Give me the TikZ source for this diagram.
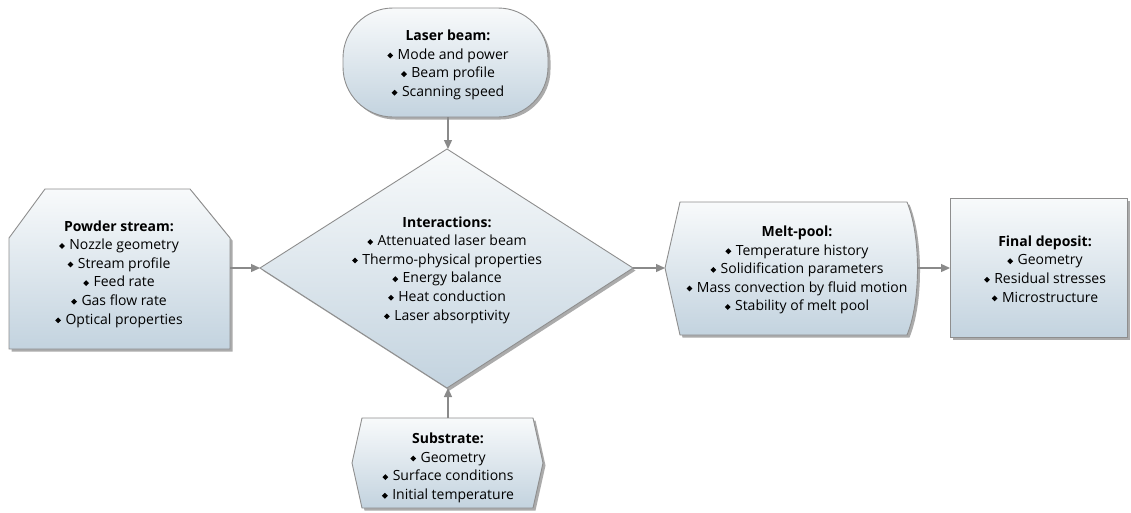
\documentclass[tikz,border=0pt]{standalone}
\usepackage{fontspec}
\setmainfont{Open Sans}
\usetikzlibrary{arrows.meta,shadows}
\definecolor{bordc}{HTML}{8E8E8E}
\definecolor{topc}{HTML}{F8FAFB}
\definecolor{botc}{HTML}{C3D3DF}
\definecolor{arrc}{HTML}{8A8A8A}
\newcommand\bul{\tikz[baseline=0pt]\fill (0pt,3.8pt) -- (2.9pt,6.7pt) -- (5.8pt,3.8pt) -- (2.9pt,0.9pt) -- cycle;\hspace{4.5pt}}
\begin{document}
\begin{tikzpicture}[x=1pt,y=-1pt,
  shp/.style={draw=bordc, line width=0.9pt, top color=topc, bottom color=botc,
    drop shadow={shadow xshift=2.5pt, shadow yshift=-2.5pt, fill=black!60, opacity=0.55}},
  txt/.style={align=center, inner sep=0pt, font=\fontsize{14}{18.6}\selectfont},
  conn/.style={draw=arrc, line width=1.3pt, -{Triangle[width=8pt,length=9pt]}}]
\useasboundingbox (0,0) rectangle (1131,512);
% shapes
\path[shp, rounded corners=50pt] (343,8) rectangle (548,117);
\path[shp] (9,238) -- (45,189) -- (190,189) -- (230,238) -- (230,349) -- (9,349) -- cycle;
\path[shp] (447,149) -- (633,268) -- (447,388) -- (260,268) -- cycle;
\path[shp] (362,418) -- (533,418) -- (543,463) -- (533,508) -- (362,508) -- (352,463) -- cycle;
\path[shp] (680,202) -- (907,202) .. controls (921,236) and (921,301) .. (907,335) -- (680,335) -- (665,268) -- cycle;
\path[shp] (950,198) rectangle (1127,337);
% anchor coordinates
\coordinate (laser-s) at (448,117);
\coordinate (int-n) at (448,149);
\coordinate (int-w) at (260,268);
\coordinate (int-s) at (448,388);
\coordinate (int-e) at (633,268);
\coordinate (pow-e) at (230,268);
\coordinate (sub-n) at (448,418);
\coordinate (melt-w) at (665,268);
\coordinate (melt-e) at (917,268);
\coordinate (fin-w) at (950,268);
% texts
\node[txt] (laser) at (448,65) {\textbf{Laser beam:}\\\bul Mode and power\\\bul Beam profile\\\bul Scanning speed};
\node[txt] (powder) at (119,274) {\textbf{Powder stream:}\\\bul Nozzle geometry\\\bul Stream profile\\\bul Feed rate\\\bul Gas flow rate\\\bul Optical properties};
\node[txt] (inter) at (447,270) {\textbf{Interactions:}\\\bul Attenuated laser beam\\\bul Thermo-physical properties\\\bul Energy balance\\\bul Heat conduction\\\bul Laser absorptivity};
\node[txt] (subst) at (448,468) {\textbf{Substrate:}\\\bul Geometry\\\bul Surface conditions\\\bul Initial temperature};
\node[txt] (melt) at (797,270) {\textbf{Melt-pool:}\\\bul Temperature history\\\bul Solidification parameters\\\bul Mass convection by fluid motion\\\bul Stability of melt pool};
\node[txt] (final) at (1045,269) {\textbf{Final deposit:}\\\bul Geometry\\\bul Residual stresses\\\bul Microstructure};
% connectors
\draw[conn] (laser-s) -- (int-n);
\draw[conn] (pow-e) -- (int-w);
\draw[conn] (sub-n) -- (int-s);
\draw[conn] (int-e) -- (melt-w);
\draw[conn] (melt-e) -- (fin-w);
\end{tikzpicture}
\end{document}
